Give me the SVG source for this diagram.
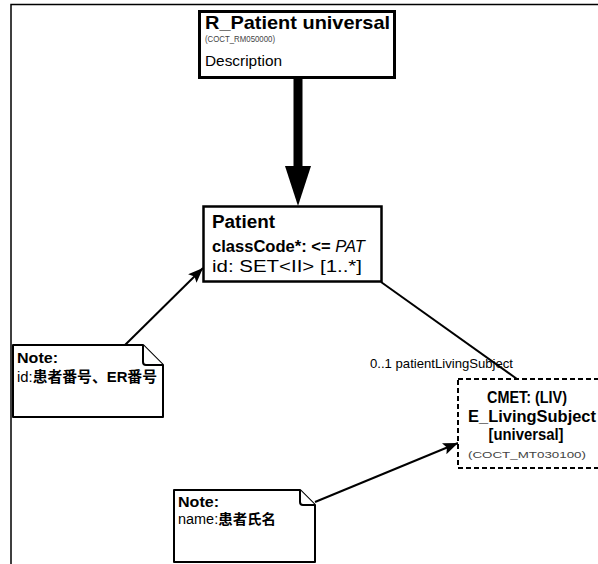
<svg xmlns="http://www.w3.org/2000/svg" width="598" height="564" viewBox="0 0 598 564">
  <style>
    text { font-family: "Liberation Sans", "Noto Sans CJK SC", Arial, sans-serif; fill: #000; }
    .b { font-weight: bold; }
    .code { fill: #444; font-size: 9px; }
    .box { fill: #fff; stroke: #000; }
    .note { fill: #fff; stroke: #000; stroke-width: 2; stroke-linejoin: round; }
    .link { fill: none; stroke: #000; stroke-width: 2; }
    .frame { fill: none; stroke: #000; stroke-width: 1.5; }
  </style>
  <defs>
    <marker id="head" markerUnits="userSpaceOnUse" markerWidth="16" markerHeight="12" refX="15" refY="6" orient="auto">
      <path d="M0,0 L15,6 L0,12 L3,6 Z" fill="#000"/>
    </marker>
  </defs>

  <rect width="598" height="564" fill="#fff"/>

  <!-- sheet border -->
  <path class="frame" d="M11,564 V4.5 H598"/>

  <!-- connectors -->
  <g id="connectors">
    <!-- refinement arrow -->
    <rect x="293.5" y="78" width="9" height="89" fill="#000"/>
    <polygon points="285,166 311,166 298,206" fill="#000"/>
    <!-- association to CMET -->
    <line class="link" x1="381" y1="282" x2="517" y2="379"/>
    <text x="370" y="368" font-size="13" textLength="143" lengthAdjust="spacingAndGlyphs">0..1 patientLivingSubject</text>
    <!-- note anchors -->
    <line class="link" x1="125" y1="345" x2="203" y2="268" marker-end="url(#head)"/>
    <line class="link" x1="315" y1="502" x2="458" y2="443" marker-end="url(#head)"/>
  </g>

  <!-- entry point -->
  <g id="r-patient">
    <rect class="box" x="199.5" y="11.5" width="195" height="66" stroke-width="3"/>
    <text class="b" x="205" y="29" font-size="19" textLength="185" lengthAdjust="spacingAndGlyphs">R_Patient universal</text>
    <text class="code" x="205" y="42" font-size="8" textLength="70" lengthAdjust="spacingAndGlyphs">(COCT_RM050000)</text>
    <text x="205" y="66" font-size="15" textLength="77" lengthAdjust="spacingAndGlyphs">Description</text>
  </g>

  <!-- Patient class -->
  <g id="patient">
    <rect class="box" x="203.5" y="206.5" width="178" height="75" stroke-width="2.5"/>
    <text class="b" x="212" y="228" font-size="18" textLength="63" lengthAdjust="spacingAndGlyphs">Patient</text>
    <text x="212" y="252" font-size="16" textLength="153" lengthAdjust="spacingAndGlyphs"><tspan class="b">classCode*: &lt;= </tspan><tspan font-style="italic">PAT</tspan></text>
    <text x="212" y="272" font-size="16" textLength="150" lengthAdjust="spacingAndGlyphs">id: SET&lt;II&gt; [1..*]</text>
  </g>

  <!-- CMET reference -->
  <g id="cmet-living-subject">
    <rect class="box" x="458" y="379" width="150" height="89" stroke-width="2" stroke-dasharray="5,3"/>
    <text class="b" x="527" y="403" font-size="16" text-anchor="middle" textLength="80" lengthAdjust="spacingAndGlyphs">CMET: (LIV)</text>
    <text class="b" x="532" y="422" font-size="16" text-anchor="middle" textLength="128" lengthAdjust="spacingAndGlyphs">E_LivingSubject</text>
    <text class="b" x="526" y="440" font-size="16" text-anchor="middle" textLength="75" lengthAdjust="spacingAndGlyphs">[universal]</text>
    <text class="code" x="527" y="458" font-size="10" text-anchor="middle" textLength="118" lengthAdjust="spacingAndGlyphs">(COCT_MT030100)</text>
  </g>

  <!-- note on id -->
  <g id="note-id">
    <path class="note" d="M13,345 H143 L163,365 V417 H13 Z"/>
    <path class="note" d="M143,345 V362 Q143,365 146,365 H163"/>
    <text class="b" x="17" y="363" font-size="15" textLength="41" lengthAdjust="spacingAndGlyphs">Note:</text>
    <text x="17" y="382" font-size="15" textLength="140" lengthAdjust="spacingAndGlyphs">id:<tspan class="b">患者番号、ER番号</tspan></text>
  </g>

  <!-- note on name -->
  <g id="note-name">
    <path class="note" d="M174,490 H300 L315,505 V562 H174 Z"/>
    <path class="note" d="M300,490 V502 Q300,505 303,505 H315"/>
    <text class="b" x="178" y="507" font-size="15" textLength="41" lengthAdjust="spacingAndGlyphs">Note:</text>
    <text x="178" y="524" font-size="14" textLength="98" lengthAdjust="spacingAndGlyphs">name:<tspan class="b">患者氏名</tspan></text>
  </g>
</svg>
